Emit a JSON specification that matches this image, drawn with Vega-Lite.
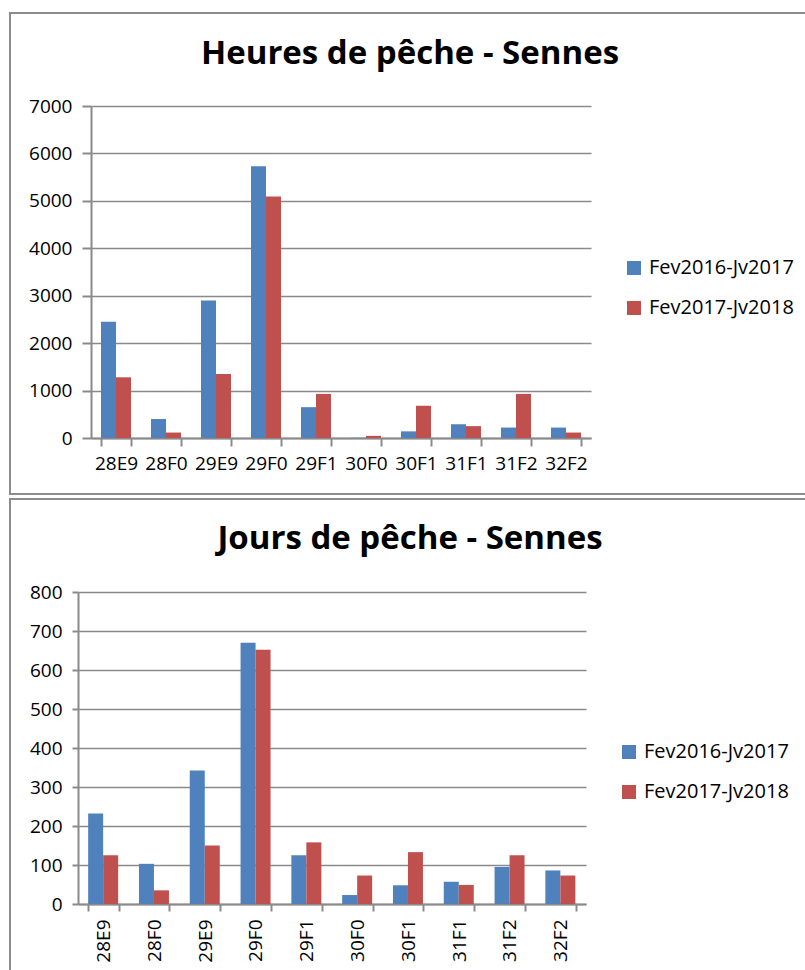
{
  "$schema": "https://vega.github.io/schema/vega-lite/v6.json",
  "padding": {"left": 0, "top": 12, "right": 0, "bottom": 0},
  "background": "white",
  "spacing": 3,
  "data": {
    "values": [
      {"rect": "28E9", "periode": "Fev2016-Jv2017", "heures": 2450, "jours": 232},
      {"rect": "28E9", "periode": "Fev2017-Jv2018", "heures": 1280, "jours": 125},
      {"rect": "28F0", "periode": "Fev2016-Jv2017", "heures": 400, "jours": 103},
      {"rect": "28F0", "periode": "Fev2017-Jv2018", "heures": 115, "jours": 35},
      {"rect": "29E9", "periode": "Fev2016-Jv2017", "heures": 2900, "jours": 342},
      {"rect": "29E9", "periode": "Fev2017-Jv2018", "heures": 1350, "jours": 150},
      {"rect": "29F0", "periode": "Fev2016-Jv2017", "heures": 5730, "jours": 670},
      {"rect": "29F0", "periode": "Fev2017-Jv2018", "heures": 5090, "jours": 652},
      {"rect": "29F1", "periode": "Fev2016-Jv2017", "heures": 650, "jours": 125},
      {"rect": "29F1", "periode": "Fev2017-Jv2018", "heures": 930, "jours": 158},
      {"rect": "30F0", "periode": "Fev2016-Jv2017", "heures": 5, "jours": 23},
      {"rect": "30F0", "periode": "Fev2017-Jv2018", "heures": 45, "jours": 73},
      {"rect": "30F1", "periode": "Fev2016-Jv2017", "heures": 140, "jours": 48},
      {"rect": "30F1", "periode": "Fev2017-Jv2018", "heures": 680, "jours": 133},
      {"rect": "31F1", "periode": "Fev2016-Jv2017", "heures": 290, "jours": 57},
      {"rect": "31F1", "periode": "Fev2017-Jv2018", "heures": 250, "jours": 49},
      {"rect": "31F2", "periode": "Fev2016-Jv2017", "heures": 220, "jours": 95},
      {"rect": "31F2", "periode": "Fev2017-Jv2018", "heures": 930, "jours": 125},
      {"rect": "32F2", "periode": "Fev2016-Jv2017", "heures": 220, "jours": 86},
      {"rect": "32F2", "periode": "Fev2017-Jv2018", "heures": 115, "jours": 73}
    ]
  },
  "vconcat": [
    {
      "width": 800,
      "height": 481,
      "title": {"text": "Heures de pêche - Sennes", "offset": -84, "baseline": "alphabetic"},
      "mark": {"type": "bar"},
      "encoding": {
        "x": {
          "field": "rect", "type": "nominal", "sort": null,
          "scale": {"range": [81, 581], "paddingInner": 0.4, "paddingOuter": 0.2},
          "axis": {"title": null, "tickBand": "extent", "offset": -56, "labelAngle": 0, "tickSize": 8, "labelPadding": 8}
        },
        "xOffset": {"field": "periode", "type": "nominal", "scale": {"paddingInner": 0, "paddingOuter": 0}},
        "y": {
          "field": "heures", "type": "quantitative",
          "scale": {"domain": [0, 7000], "range": [425, 93], "nice": false},
          "axis": {"title": null, "offset": -81, "values": [0, 1000, 2000, 3000, 4000, 5000, 6000, 7000], "format": "d", "tickSize": 9, "labelPadding": 10, "grid": true}
        },
        "color": {
          "field": "periode", "type": "nominal",
          "scale": {"domain": ["Fev2016-Jv2017", "Fev2017-Jv2018"], "range": ["#4F81BD", "#C0504D"]},
          "legend": {"orient": "none", "legendX": 614, "legendY": 245, "title": null}
        }
      }
    },
    {
      "width": 800,
      "height": 480,
      "title": {"text": "Jours de pêche - Sennes", "offset": -83, "baseline": "alphabetic"},
      "mark": {"type": "bar"},
      "encoding": {
        "x": {
          "field": "rect", "type": "nominal", "sort": null,
          "scale": {"range": [68, 576], "paddingInner": 0.4, "paddingOuter": 0.2},
          "axis": {"title": null, "tickBand": "extent", "offset": -75, "labelAngle": -90, "tickSize": 7, "labelPadding": 8}
        },
        "xOffset": {"field": "periode", "type": "nominal", "scale": {"paddingInner": 0, "paddingOuter": 0}},
        "y": {
          "field": "jours", "type": "quantitative",
          "scale": {"domain": [0, 800], "range": [405, 93], "nice": false},
          "axis": {"title": null, "offset": -68, "values": [0, 100, 200, 300, 400, 500, 600, 700, 800], "format": "d", "tickSize": 6, "labelPadding": 10, "grid": true}
        },
        "color": {
          "field": "periode", "type": "nominal",
          "scale": {"domain": ["Fev2016-Jv2017", "Fev2017-Jv2018"], "range": ["#4F81BD", "#C0504D"]},
          "legend": {"orient": "none", "legendX": 609, "legendY": 243, "title": null}
        }
      }
    }
  ],
  "resolve": {"scale": {"x": "independent", "y": "independent", "color": "independent"}, "legend": {"color": "independent"}},
  "config": {
    "view": {"stroke": "#8c8c8c", "strokeWidth": 2},
    "title": {"font": "Open Sans", "fontWeight": "bold", "fontSize": 33, "color": "#000000", "anchor": "middle"},
    "axis": {
      "labelFont": "Open Sans", "labelFontSize": 19, "labelColor": "#000000",
      "domainColor": "#8a8a8a", "domainWidth": 2, "tickColor": "#8a8a8a", "tickWidth": 2,
      "gridColor": "#8a8a8a", "gridWidth": 1.6
    },
    "legend": {
      "labelFont": "Open Sans", "labelFontSize": 20, "labelColor": "#000000",
      "symbolType": "square", "symbolSize": 196, "symbolStrokeWidth": 0,
      "rowPadding": 20, "labelOffset": 5, "padding": 0
    }
  }
}
